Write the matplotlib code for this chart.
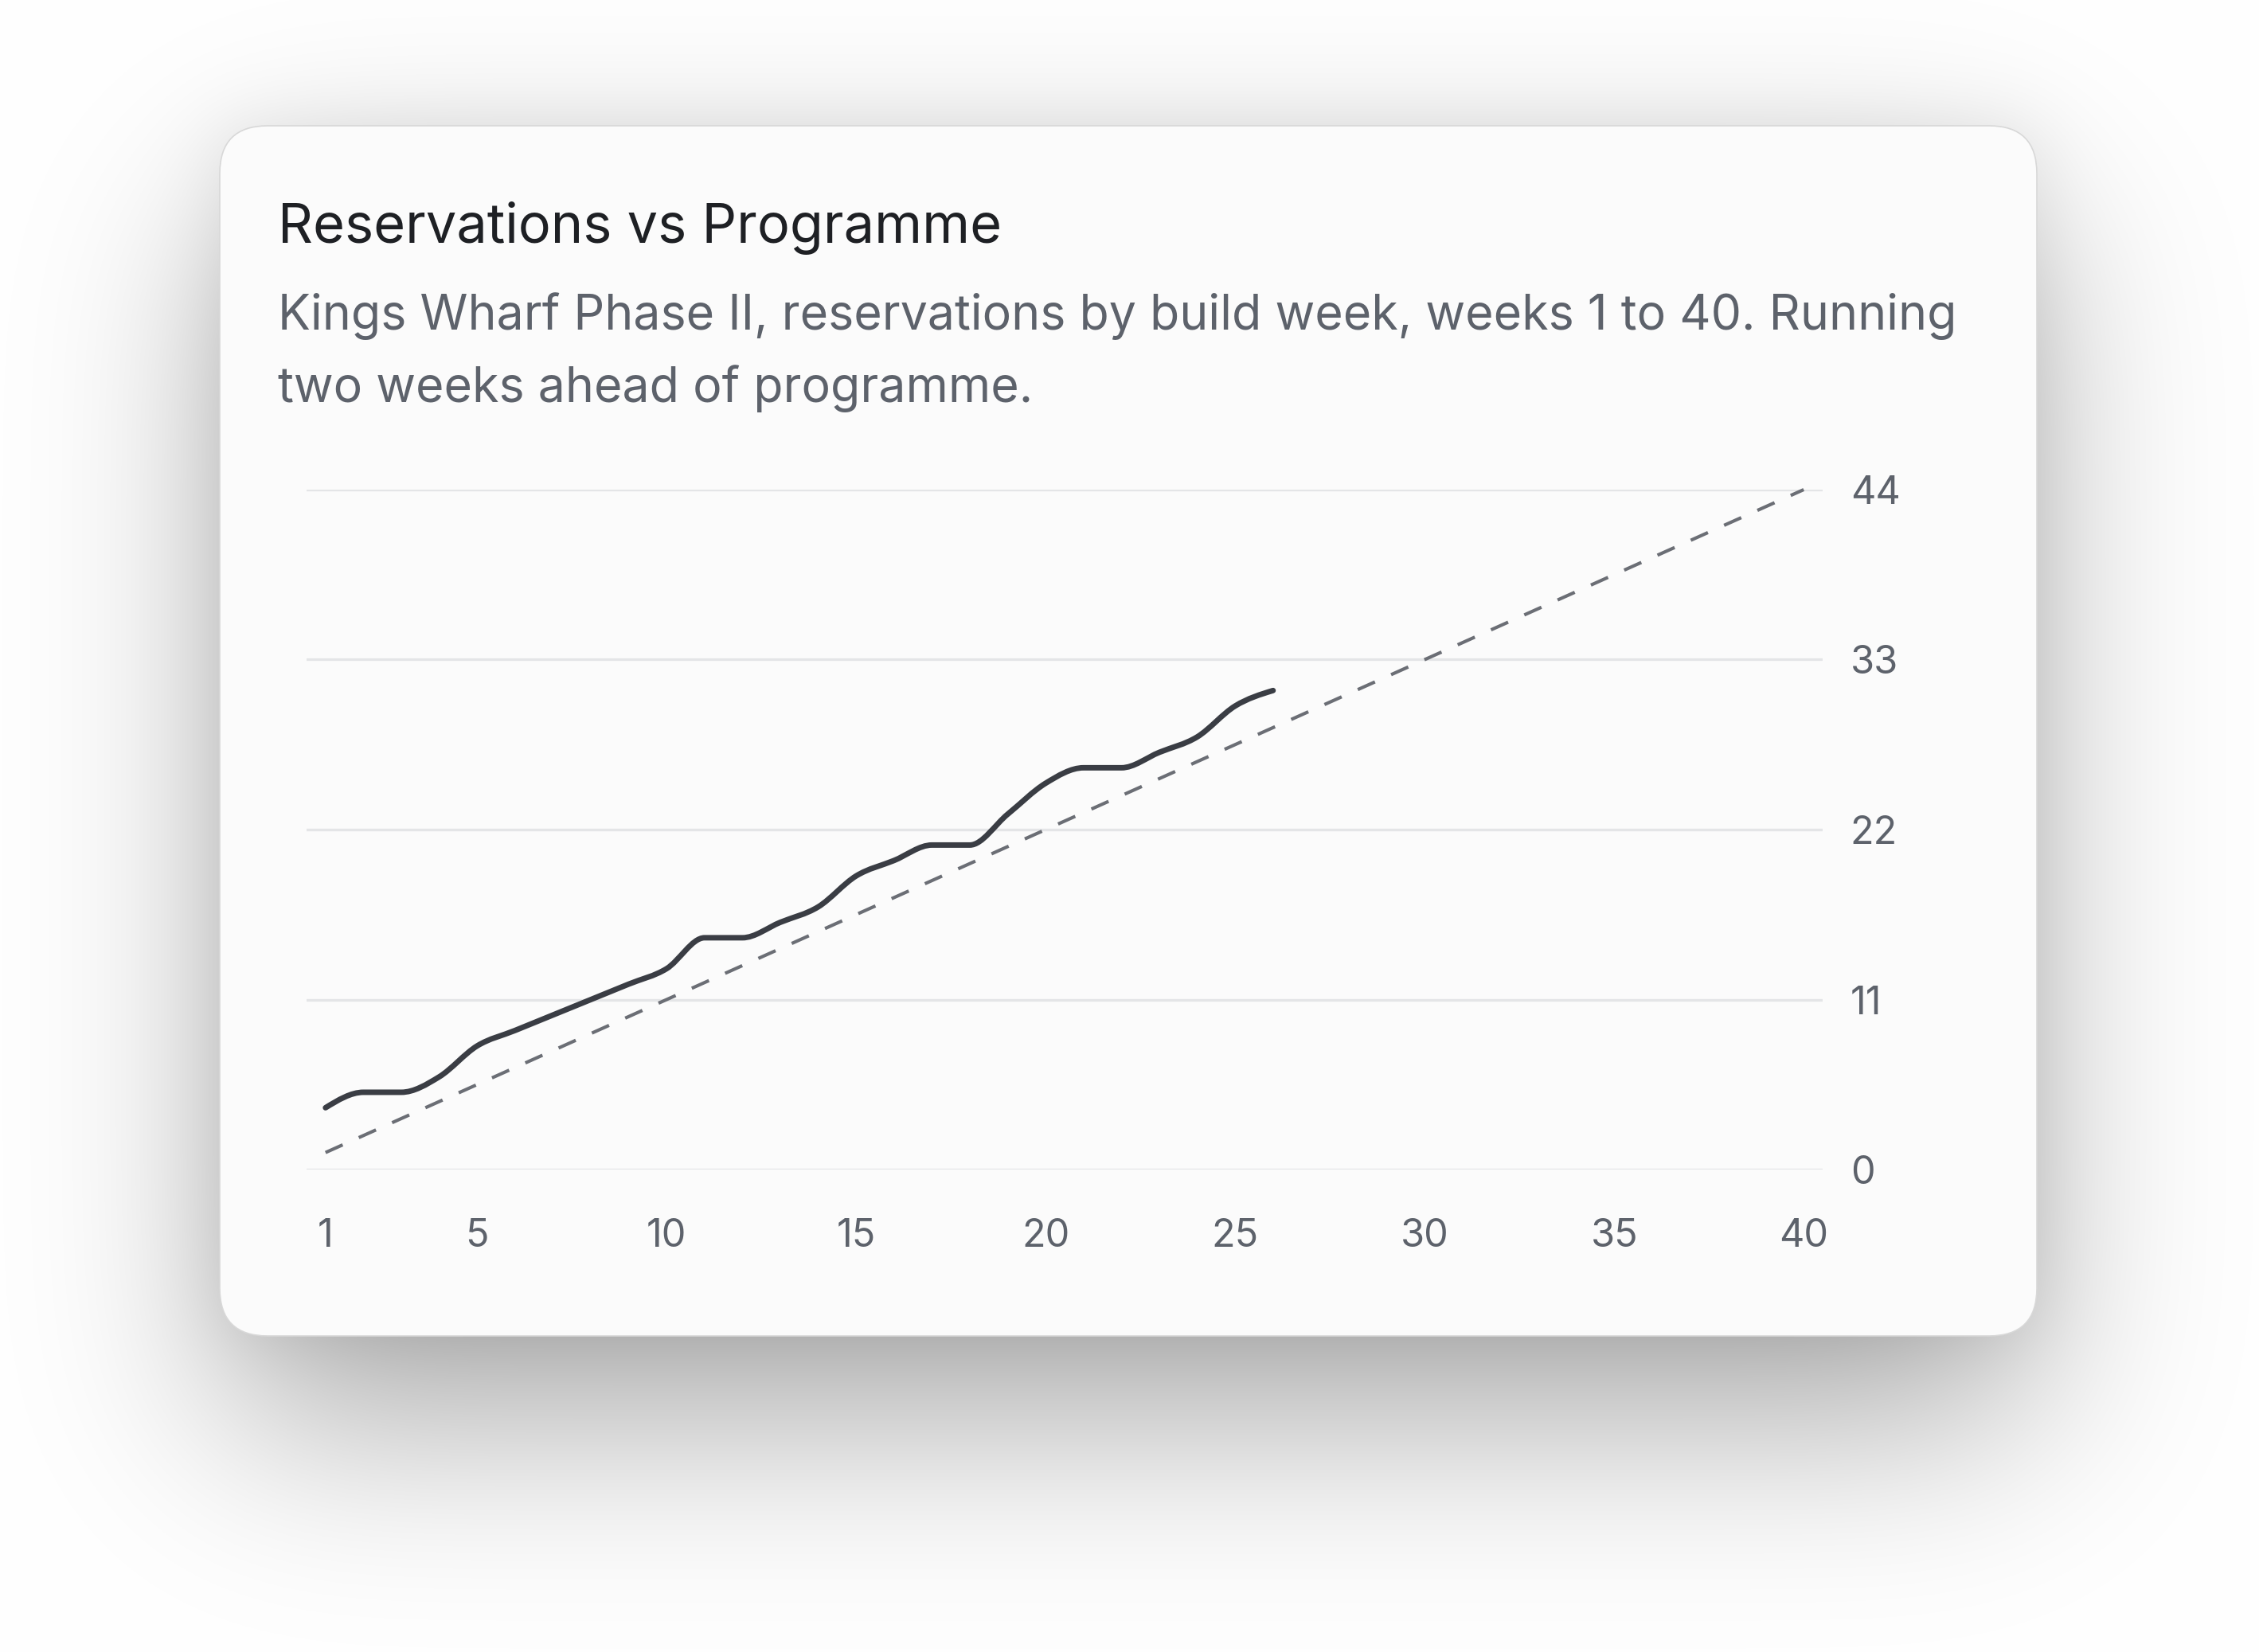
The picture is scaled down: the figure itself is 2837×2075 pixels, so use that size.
import math
import numpy as np
import matplotlib
matplotlib.use("Agg")
import matplotlib.pyplot as plt
from matplotlib.patches import FancyBboxPatch, PathPatch
from matplotlib.path import Path

# data
weeks = list(range(1, 27))
reservations = [4, 5, 5, 6, 8, 9, 10, 11, 12, 13, 15, 15, 16, 17, 19, 20,
                21, 21, 23, 25, 26, 26, 27, 28, 30, 31]
programme_weeks = [1, 40]
programme = [1.1, 44]
x_ticks = [1, 5, 10, 15, 20, 25, 30, 35, 40]
y_ticks = [0, 11, 22, 33, 44]

title = "Reservations vs Programme"
subtitle = ["Kings Wharf Phase II, reservations by build week, weeks 1 to 40. Running",
            "two weeks ahead of programme."]

W, H = 2837, 2075
plt.rcParams['font.family'] = ['Inter', 'DejaVu Sans']
plt.rcParams['lines.scale_dashes'] = False


def monotone_path(x, y):
    # smooth curve through the points, like d3 curveMonotoneX
    x = np.asarray(x, float)
    y = np.asarray(y, float)
    n = len(x)
    h = np.diff(x)
    s = np.diff(y) / h
    t = np.zeros(n)
    for i in range(1, n - 1):
        p = (s[i - 1] * h[i] + s[i] * h[i - 1]) / (h[i - 1] + h[i])
        t[i] = (np.sign(s[i - 1]) + np.sign(s[i])) * min(abs(s[i - 1]), abs(s[i]), 0.5 * abs(p))
    t[0] = (3 * s[0] - t[1]) / 2
    t[-1] = (3 * s[-1] - t[-2]) / 2
    verts = [(x[0], y[0])]
    codes = [Path.MOVETO]
    for i in range(n - 1):
        dx = (x[i + 1] - x[i]) / 3
        verts += [(x[i] + dx, y[i] + dx * t[i]),
                  (x[i + 1] - dx, y[i + 1] - dx * t[i + 1]),
                  (x[i + 1], y[i + 1])]
        codes += [Path.CURVE4] * 3
    return Path(verts, codes)


def blur_band(coord, lo, hi, sigma):
    erf = np.vectorize(math.erf)
    k = sigma * math.sqrt(2)
    return 0.5 * (erf((coord - lo) / k) - erf((coord - hi) / k))


fig = plt.figure(figsize=(W / 100, H / 100), dpi=100, facecolor='white')

# background: shadow + card, in pixel units
bg = fig.add_axes([0, 0, 1, 1])
bg.set_xlim(0, W)
bg.set_ylim(H, 0)
bg.axis('off')

cl, ct, cr, cb = 276, 158, 2558, 1678
xs = np.arange(W) + 0.5
ys = np.arange(H) + 0.5
cov = 0.33 * np.outer(blur_band(ys, ct + 110, cb + 110, 125), blur_band(xs, cl + 10, cr - 10, 125))
cov += 0.07 * np.outer(blur_band(ys, ct, cb, 45), blur_band(xs, cl, cr, 45))
shade = 1 - np.clip(cov, 0, 1)
bg.imshow(np.dstack([shade] * 3), extent=(0, W, H, 0), aspect='auto', interpolation='bilinear')

card = FancyBboxPatch((cl, ct), cr - cl, cb - ct, boxstyle="round,pad=0,rounding_size=60",
                      fc='#fbfbfb', ec='#d8d8d8', lw=1.2)
bg.add_patch(card)

fig.text(349 / W, 1 - 305 / H, title, fontsize=49.3, color='#1e2024', va='baseline')
fig.text(349 / W, 1 - 414 / H, subtitle[0], fontsize=43.8, color='#5d626b', va='baseline')
fig.text(349 / W, 1 - 505 / H, subtitle[1], fontsize=43.8, color='#5d626b', va='baseline')

# chart
ax = fig.add_axes([385 / W, 1 - 1469 / H, 1904 / W, 854 / H])
ax.set_facecolor('none')
ax.set_xlim(0.5, 40.5)
ax.set_ylim(0, 44)
for sp in ax.spines.values():
    sp.set_visible(False)
ax.set_xticks(x_ticks)
ax.set_yticks(y_ticks)
ax.yaxis.tick_right()
ax.tick_params(axis='both', length=0, labelsize=35, labelcolor='#5d626b')
ax.tick_params(axis='x', pad=44)
ax.tick_params(axis='y', pad=25)
ax.grid(axis='y', color='#e4e5e7', lw=2.4)
ax.set_axisbelow(True)

ax.plot(programme_weeks, programme, color='#6b6e75', lw=3, linestyle=(0, (17, 16)), clip_on=False)
ax.add_patch(PathPatch(monotone_path(weeks, reservations), fill=False, ec='#3a3d44', lw=5,
                       capstyle='round', joinstyle='round', clip_on=False))

fig.savefig('out.png', dpi=100, facecolor='white')
